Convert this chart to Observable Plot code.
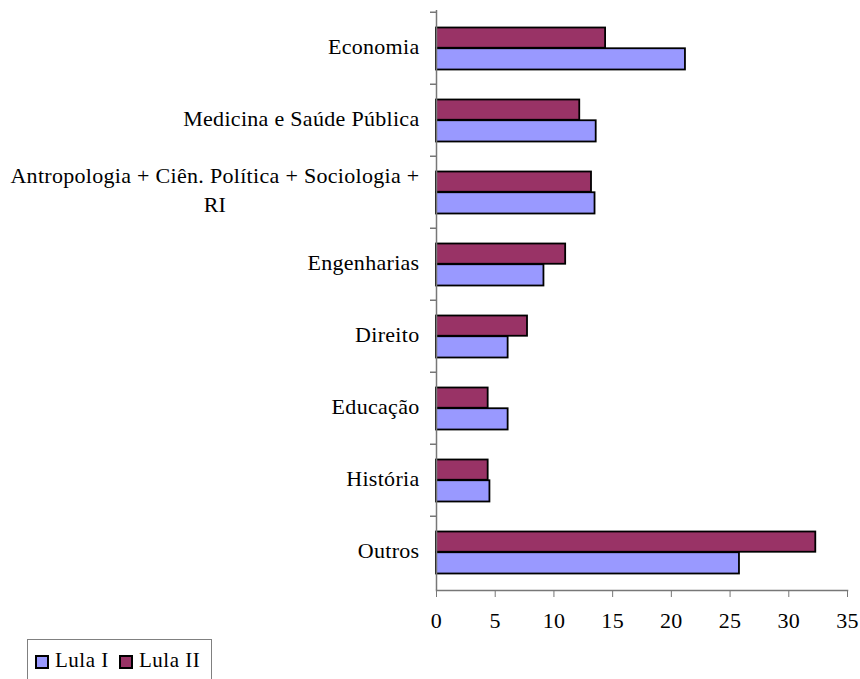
<!DOCTYPE html>
<html>
<head>
<meta charset="utf-8">
<script src="https://cdn.jsdelivr.net/npm/d3@7"></script>
<script src="https://cdn.jsdelivr.net/npm/@observablehq/plot@0.6"></script>
<style>
  html, body { margin: 0; padding: 0; background: white; overflow: hidden; }
  #wrap { position: relative; width: 860px; height: 679px; }
  #legend {
    position: absolute; left: 27px; top: 639px; width: 185px; height: 44px;
    border: 1px solid #808080; box-sizing: border-box;
    font-family: "Liberation Serif", serif; font-size: 21px; letter-spacing: 0.5px;
    color: black;
  }
  .sw { position: absolute; top: 15px; width: 10px; height: 10px; border: 2px solid black; }
  .lt { position: absolute; top: 8px; line-height: 24px; }
</style>
</head>
<body>
<div id="wrap"></div>
<script>
const categories = [
  "Economia",
  "Medicina e Saúde Pública",
  "Antropologia + Ciên. Política + Sociologia + RI",
  "Engenharias",
  "Direito",
  "Educação",
  "História",
  "Outros"
];
const categoryLabels = [
  "Economia",
  "Medicina e Saúde Pública",
  "Antropologia + Ciên. Política + Sociologia +\nRI",
  "Engenharias",
  "Direito",
  "Educação",
  "História",
  "Outros"
];
const seriesNames = ["Lula I", "Lula II"];
const seriesColors = ["#9999FF", "#993366"];
const lulaI  = [21.2, 13.6, 13.5, 9.15, 6.1, 6.1, 4.55, 25.8];
const lulaII = [14.4, 12.2, 13.2, 11.0, 7.75, 4.4, 4.4, 32.3];
const xTicks = [0, 5, 10, 15, 20, 25, 30, 35];

const labelOf = new Map(categories.map((c, i) => [c, categoryLabels[i]]));
const rowsI = categories.map((c, i) => ({category: c, value: lulaI[i]}));
const rowsII = categories.map((c, i) => ({category: c, value: lulaII[i]}));

const axisGray = "#777777";

const chart = Plot.plot({
  width: 860,
  height: 640,
  marginLeft: 436,
  marginRight: 13,
  marginTop: 10,
  marginBottom: 50,
  style: {fontFamily: "'Liberation Serif', serif", fontSize: "22px", color: "black", background: "white", letterSpacing: "0.3px"},
  x: {domain: [0, 35], label: null},
  y: {domain: categories, padding: 0, label: null},
  marks: [
    Plot.barX(rowsII, {x: "value", y: "category", fill: seriesColors[1], stroke: "black", strokeWidth: 1.8, insetTop: 15.5, insetBottom: 36.25}),
    Plot.barX(rowsI, {x: "value", y: "category", fill: seriesColors[0], stroke: "black", strokeWidth: 1.8, insetTop: 36.25, insetBottom: 14.5}),
    Plot.ruleX([0], {stroke: axisGray, strokeWidth: 1.5}),
    Plot.frame({anchor: "bottom", stroke: axisGray, strokeWidth: 1.5}),
    Plot.ruleY(categories, {y: d => d, x1: 0, x2: 0, insetLeft: -6, dy: -36.25, stroke: axisGray, strokeWidth: 1.5}),
    Plot.axisX({ticks: xTicks, tickSize: 7, tickPadding: 15, stroke: axisGray, fill: "black", fontSize: 22, label: null, tickFormat: d => String(d)}),
    Plot.axisY({tickSize: 0, tickPadding: 17, dy: -4, label: null, tickFormat: d => labelOf.get(d), lineHeight: 1.33, fontSize: 22, fill: "black"})
  ]
});

const wrap = document.getElementById("wrap");
wrap.append(chart);

// Center multi-line category labels (as in the original), keeping their right edge
chart.querySelectorAll("text").forEach(t => {
  const spans = t.querySelectorAll("tspan");
  if (spans.length > 1) {
    let w = 0;
    spans.forEach(s => { w = Math.max(w, s.getComputedTextLength()); });
    t.setAttribute("text-anchor", "middle");
    spans.forEach(s => s.setAttribute("x", String(-w / 2)));
  }
});

// Legend
const legend = document.createElement("div");
legend.id = "legend";
const swLeft = [7, 91];
const txLeft = [27, 111];
seriesNames.forEach((name, i) => {
  const sw = document.createElement("div");
  sw.className = "sw";
  sw.style.left = swLeft[i] + "px";
  sw.style.background = seriesColors[i];
  const tx = document.createElement("div");
  tx.className = "lt";
  tx.style.left = txLeft[i] + "px";
  tx.textContent = name;
  legend.append(sw, tx);
});
wrap.append(legend);
</script>
</body>
</html>
